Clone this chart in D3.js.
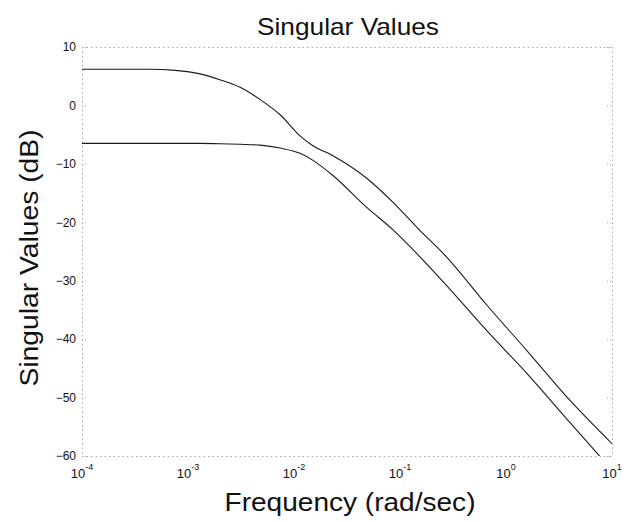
<!DOCTYPE html>
<html>
<head>
<meta charset="utf-8">
<script src="https://cdn.jsdelivr.net/npm/d3@7"></script>
<style>
  html, body { margin: 0; padding: 0; background: #fff; }
  svg { display: block; font-family: "Liberation Sans", Arial, sans-serif; }
</style>
</head>
<body>
<svg id="chart" width="629" height="522"></svg>
<script>
// Frequency grid (rad/sec) and the two singular value curves (dB)
const frequencies = [1e-4, 4.3e-4, 7.6e-4, 1.3e-3, 2.0e-3, 3.1e-3, 4.8e-3, 7.4e-3,
                     1.14e-2, 1.51e-2, 2.33e-2, 4.89e-2, 8.6e-2, 0.145, 0.277,
                     0.662, 1.58, 4.02, 10];
const sigmaMax = [6.2, 6.2, 6.0, 5.4, 4.4, 3.1, 1.0, -1.6, -5.2, -6.9, -8.6,
                  -12.5, -16.6, -20.9, -26.0, -34.2, -42.0, -50.5, -57.9];
const sigmaMin = [-6.5, -6.5, -6.5, -6.5, -6.55, -6.65, -6.8, -7.3, -8.2, -9.4,
                  -12.0, -17.5, -21.3, -25.4, -30.9, -38.6, -45.9, -54.3, -62.4];

const xTickExponents = [-4, -3, -2, -1, 0, 1];
const yTicks = [10, 0, -10, -20, -30, -40, -50, -60];

const titleText = "Singular Values";
const xLabelText = "Frequency (rad/sec)";
const yLabelText = "Singular Values (dB)";

const svg = d3.select("#chart");
const plotLeft = 82, plotRight = 612, plotTop = 47, plotBottom = 456;

const x = d3.scaleLog().domain([1e-4, 10]).range([plotLeft, plotRight]);
const y = d3.scaleLinear().domain([-60, 10]).range([plotBottom, plotTop]);

// clip region for the plotted curves
svg.append("defs").append("clipPath").attr("id", "plotClip")
  .append("rect")
  .attr("x", plotLeft).attr("y", plotTop)
  .attr("width", plotRight - plotLeft).attr("height", plotBottom - plotTop);

// faint dotted axes box
const frame = svg.append("g")
  .attr("fill", "none")
  .attr("stroke", "#a8a8a8")
  .attr("stroke-width", 1)
  .attr("stroke-dasharray", "1.5,3");
frame.append("line").attr("x1", plotLeft).attr("x2", plotRight).attr("y1", plotTop + 0.5).attr("y2", plotTop + 0.5);
frame.append("line").attr("x1", plotLeft).attr("x2", plotRight).attr("y1", plotBottom + 0.5).attr("y2", plotBottom + 0.5);
frame.append("line").attr("x1", plotLeft + 0.5).attr("x2", plotLeft + 0.5).attr("y1", plotTop).attr("y2", plotBottom);
frame.append("line").attr("x1", plotRight + 0.5).attr("x2", plotRight + 0.5).attr("y1", plotTop).attr("y2", plotBottom);

// y axis ticks and labels
const yAxis = d3.axisLeft(y).tickValues(yTicks).tickSize(0).tickPadding(6)
  .tickFormat(d3.format("d"));
const gy = svg.append("g").attr("transform", `translate(${plotLeft},0)`).call(yAxis);
gy.select(".domain").remove();
gy.selectAll("text").attr("font-size", 12).attr("fill", "#111")
  .attr("font-family", "Liberation Sans, Arial, sans-serif");

// x axis ticks with power-of-ten labels
const gx = svg.append("g");
xTickExponents.forEach(e => {
  const t = gx.append("text")
    .attr("x", x(Math.pow(10, e)))
    .attr("y", plotBottom + 22)
    .attr("text-anchor", "middle")
    .attr("font-size", 13)
    .attr("fill", "#111");
  t.append("tspan").text("10");
  t.append("tspan").attr("dy", -8).attr("font-size", 9).text(String(e));
});

// tick marks along the frame
const tickMarks = svg.append("g").attr("stroke", "#a8a8a8").attr("stroke-width", 1)
  .attr("stroke-dasharray", "1,2");
yTicks.forEach(v => {
  tickMarks.append("line").attr("x1", plotLeft).attr("x2", plotLeft + 5)
    .attr("y1", y(v) + 0.5).attr("y2", y(v) + 0.5);
  tickMarks.append("line").attr("x1", plotRight - 5).attr("x2", plotRight)
    .attr("y1", y(v) + 0.5).attr("y2", y(v) + 0.5);
});

// curves
const line = d3.line()
  .x(d => x(d[0]))
  .y(d => y(d[1]))
  .curve(d3.curveMonotoneX);

const curves = svg.append("g").attr("clip-path", "url(#plotClip)");
[sigmaMax, sigmaMin].forEach(series => {
  curves.append("path")
    .datum(frequencies.map((f, i) => [f, series[i]]))
    .attr("fill", "none")
    .attr("stroke", "#1a1a1a")
    .attr("stroke-width", 1.1)
    .attr("d", line);
});

// title and axis labels
svg.append("text")
  .attr("x", 348).attr("y", 35)
  .attr("text-anchor", "middle")
  .attr("font-size", 24)
  .attr("textLength", 182).attr("lengthAdjust", "spacingAndGlyphs")
  .attr("fill", "#111")
  .text(titleText);

svg.append("text")
  .attr("x", 350).attr("y", 511)
  .attr("text-anchor", "middle")
  .attr("font-size", 25)
  .attr("textLength", 251).attr("lengthAdjust", "spacingAndGlyphs")
  .attr("fill", "#111")
  .text(xLabelText);

svg.append("text")
  .attr("transform", `translate(38,258) rotate(-90)`)
  .attr("text-anchor", "middle")
  .attr("font-size", 26)
  .attr("textLength", 257).attr("lengthAdjust", "spacingAndGlyphs")
  .attr("fill", "#111")
  .text(yLabelText);
</script>
</body>
</html>
